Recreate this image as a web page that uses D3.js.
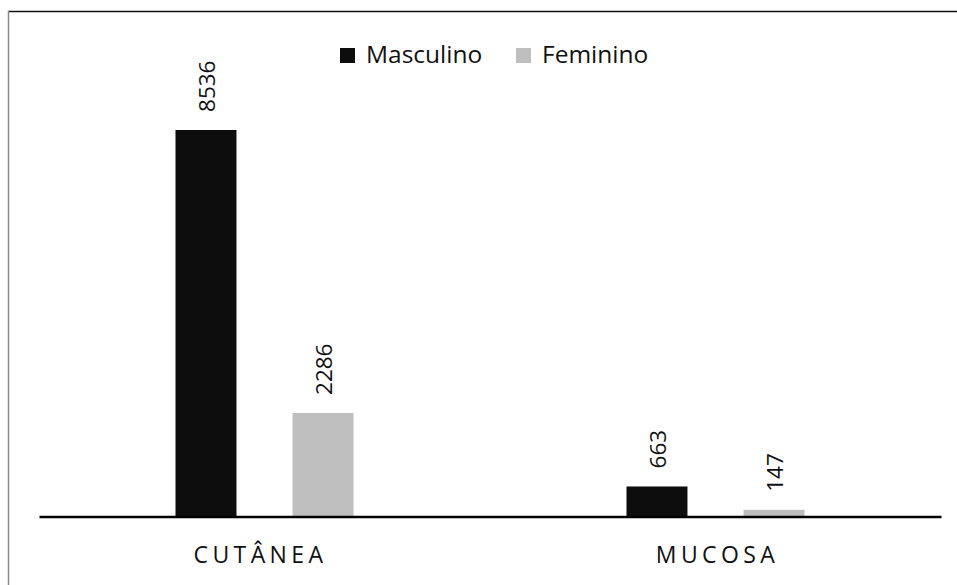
<!DOCTYPE html>
<html><head><meta charset="utf-8">
<script src="https://cdn.jsdelivr.net/npm/d3@7"></script>
<style>body{margin:0;background:#fff}svg{display:block;font-family:"Open Sans",sans-serif}</style>
</head><body><svg id="c" width="957" height="585"></svg>
<script>
const categories = ["CUTÂNEA", "MUCOSA"];
const seriesNames = ["Masculino", "Feminino"];
const masculino = [8536, 663];
const feminino = [2286, 147];
const colors = ["#0d0d0d", "#bfbfbf"];

const svg = d3.select("#c");
// outer border
svg.append("line").attr("x1",8).attr("x2",957).attr("y1",11.5).attr("y2",11.5).attr("stroke","#111").attr("stroke-width",1.5);
svg.append("line").attr("x1",8.5).attr("x2",8.5).attr("y1",11).attr("y2",585).attr("stroke","#888").attr("stroke-width",1.5);

const x0 = d3.scaleBand().domain(categories).range([39, 941]).paddingInner(0).paddingOuter(0);
const x1 = d3.scaleBand().domain(seriesNames).range([136.5, 314.5]).paddingInner(0.479).paddingOuter(0);
const y = d3.scaleLinear().domain([0, 10000]).range([516.5, 63.7]);

const data = [];
categories.forEach((c,i)=>{
  data.push({cat:c, s:seriesNames[0], v:masculino[i], color:colors[0]});
  data.push({cat:c, s:seriesNames[1], v:feminino[i], color:colors[1]});
});

const g = svg.append("g");
g.selectAll("rect.bar").data(data).join("rect").attr("class","bar")
  .attr("x", d=>x0(d.cat)+x1(d.s)).attr("width", x1.bandwidth())
  .attr("y", d=>y(d.v)).attr("height", d=>y(0)-y(d.v)).attr("fill", d=>d.color);

g.selectAll("text.lbl").data(data).join("text").attr("class","lbl")
  .attr("transform", d=>`translate(${x0(d.cat)+x1(d.s)+x1.bandwidth()/2+1},${y(d.v)-18}) rotate(-90)`)
  .attr("dy","0.36em").attr("font-size",22.5).attr("fill","#111").text(d=>d.v);

// axis
const ax = svg.append("g").attr("transform","translate(0,516.5)").call(d3.axisBottom(x0).tickSize(0).tickPadding(0));
ax.select(".domain").attr("stroke","#000").attr("stroke-width",2.5);
ax.selectAll(".tick text").attr("font-family","Open Sans").attr("font-size",23).attr("fill","#111")
  .attr("letter-spacing","4.4px").attr("dy",null).attr("y",46.5).attr("dx", d=>d===categories[0]?"-4px":"2px");

// legend
const leg = svg.append("g");
const legX = [340, 516];
seriesNames.forEach((s,i)=>{
  leg.append("rect").attr("x",legX[i]).attr("y",48).attr("width",15).attr("height",15).attr("fill",colors[i]);
  leg.append("text").attr("x",legX[i]+26).attr("y",62.5).attr("font-size",24.5).attr("fill","#111").text(s);
});
</script></body></html>
